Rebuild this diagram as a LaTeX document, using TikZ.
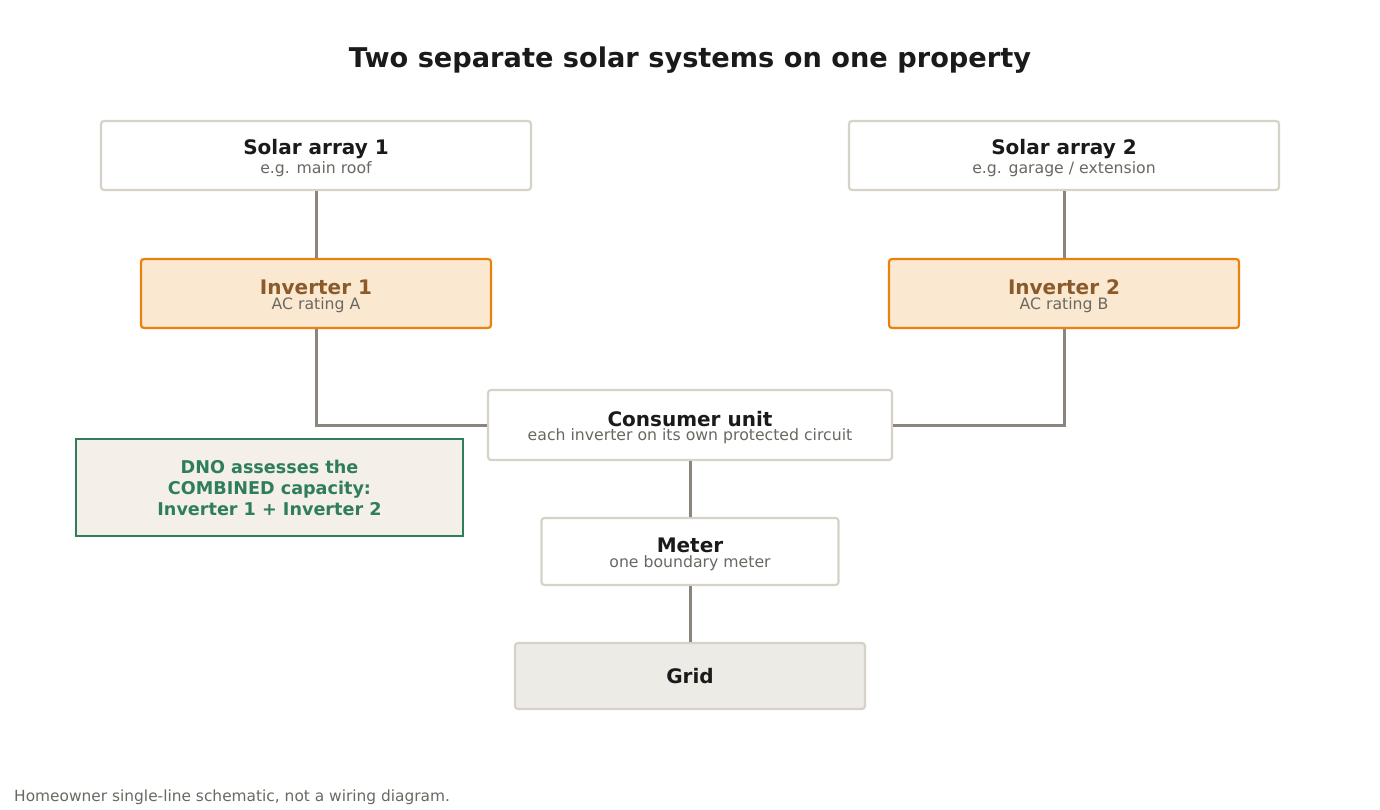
\documentclass[tikz,border=0pt]{standalone}
\usepackage{fontspec}
\setmainfont{DejaVu Sans}
\usepackage{tikz}
\usetikzlibrary{positioning, calc}
\usepackage{xcolor}
\definecolor{inkdark}{HTML}{1A1A1A}
\definecolor{inkgray}{HTML}{6B6862}
\definecolor{boxline}{HTML}{D6D2C8}
\definecolor{wire}{HTML}{8A857D}
\definecolor{invline}{HTML}{E8820C}
\definecolor{invfill}{HTML}{FAE8D0}
\definecolor{invtext}{HTML}{8A5A2B}
\definecolor{dnogreen}{HTML}{2E7D5B}
\definecolor{dnofill}{HTML}{F4EFE8}
\definecolor{gridfill}{HTML}{ECEBE6}
\newcommand{\boxtext}[2]{{\fontsize{20}{17}\selectfont\bfseries\rule{0pt}{20pt}#1}\\[1.5pt]{\fontsize{15.7}{15}\selectfont\color{inkgray}#2}}
\tikzstyle{unit} = [rectangle, rounded corners=3pt, line width=2.2pt, draw=boxline, fill=white, text=inkdark, align=center, inner sep=0pt]
\tikzstyle{inverter} = [unit, draw=invline, fill=invfill, text=invtext]
\tikzstyle{note} = [rectangle, line width=1.8pt, draw=dnogreen, fill=dnofill, text=dnogreen, align=center, inner sep=0pt, font=\fontsize{17.6}{21}\selectfont\bfseries]
\tikzstyle{wireline} = [line width=3pt, draw=wire]

\begin{document}
\begin{tikzpicture}[x=1pt, y=-1pt]
        \useasboundingbox (0,0) rectangle (1380,810);
        \node (title) at (690,60) [text=inkdark, font=\fontsize{27.2}{32}\selectfont\bfseries] {Two separate solar systems on one property};

        \node (array1) [unit, minimum width=430pt, minimum height=69pt] at (316,155.5) {\boxtext{Solar array 1}{e.g. main roof}};
        \node (array2) [unit, minimum width=430pt, minimum height=69pt] at (1064,155.5) {\boxtext{Solar array 2}{e.g. garage / extension}};
        \node (inv1) [inverter, minimum width=350pt, minimum height=69pt] at (316,293.5) {\boxtext{Inverter 1}{AC rating A}};
        \node (inv2) [inverter, minimum width=350pt, minimum height=69pt] at (1064,293.5) {\boxtext{Inverter 2}{AC rating B}};
        \node (cu) [unit, minimum width=404pt, minimum height=70pt] at (690,425) {\boxtext{Consumer unit}{each inverter on its own protected circuit}};
        \node (dno) [note, minimum width=387pt, minimum height=97pt] at (269.5,487.5) {DNO assesses the\\COMBINED capacity:\\Inverter 1 + Inverter 2};
        \node (meter) [unit, minimum width=297pt, minimum height=67pt] at (690,551.5) {\boxtext{Meter}{one boundary meter}};
        \node (grid) [unit, fill=gridfill, minimum width=350pt, minimum height=66pt, font=\fontsize{20}{23}\selectfont\bfseries] at (690,676) {Grid};

        \node (footer) [anchor=west, inner sep=0pt, text=inkgray, font=\fontsize{15.4}{17}\selectfont] at (14,797) {Homeowner single-line schematic, not a wiring diagram.};

        \draw [wireline] (array1) -- (inv1);
        \draw [wireline] (array2) -- (inv2);
        \draw [wireline] (inv1) |- (cu);
        \draw [wireline] (inv2) |- (cu);
        \draw [wireline] (cu) -- (meter);
        \draw [wireline] (meter) -- (grid);
    \end{tikzpicture}
\end{document}
